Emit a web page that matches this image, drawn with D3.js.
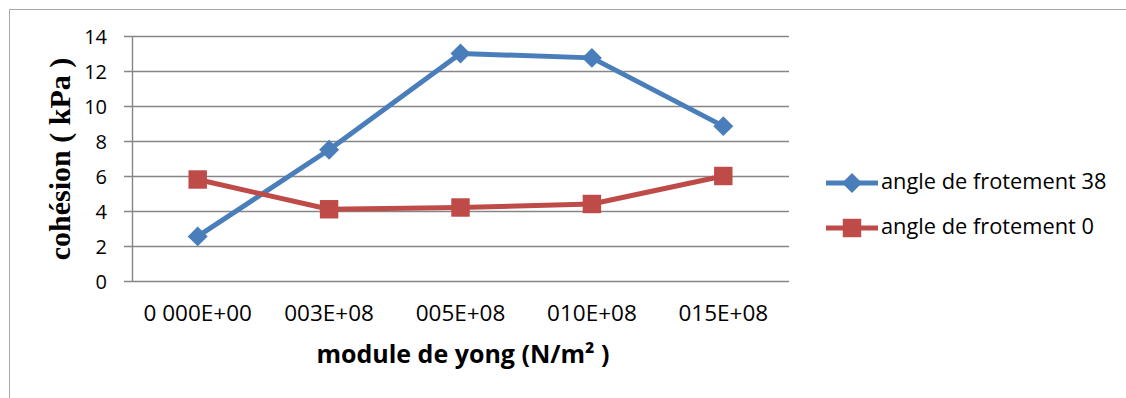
<!DOCTYPE html>
<html><head><meta charset="utf-8">
<script src="https://cdn.jsdelivr.net/npm/d3@7"></script>
<style>body{margin:0;background:#fff}svg{display:block}</style>
</head><body>
<script>
const categories = ["0 000E+00","003E+08","005E+08","010E+08","015E+08"];
const seriesNames = ["angle de frotement 38","angle de frotement 0"];
const series38 = [2.55, 7.5, 13.0, 12.75, 8.85];
const series0 = [5.8, 4.1, 4.2, 4.4, 6.0];
const yTicks = [0,2,4,6,8,10,12,14];
const colors = ["#4A7EBB","#BE4B48"];

(function(){
const W=1126,H=398;
const SANS="'Open Sans','Noto Sans',sans-serif";
const svg=d3.select("body").append("svg").attr("width",W).attr("height",H);
svg.append("path").attr("d","M9.5,398 V9.5 H1126").attr("fill","none").attr("stroke","#a6a6a6").attr("stroke-width",1);

const pL=132,pR=789,pT=36,pB=281;
const x=d3.scaleBand().domain(categories).range([pL,pR]);
const y=d3.scaleLinear().domain([0,14]).range([pB,pT]);

svg.append("g").selectAll("line").data(yTicks).join("line")
 .attr("x1",pL-8).attr("x2",pR).attr("y1",d=>Math.round(y(d))+0.5).attr("y2",d=>Math.round(y(d))+0.5)
 .attr("stroke","#868686").attr("stroke-width",1.4);
svg.append("line").attr("x1",pL+0.5).attr("x2",pL+0.5).attr("y1",pT).attr("y2",pB).attr("stroke","#868686").attr("stroke-width",1.4);

const yAxis=d3.axisLeft(y).tickValues(yTicks).tickSize(0).tickPadding(25);
const ga=svg.append("g").attr("transform",`translate(${pL},0)`).call(yAxis);
ga.select(".domain").remove();
ga.selectAll("text").attr("font-family",SANS).attr("font-size",20).attr("fill","#000").attr("dy","0.36em");

const xAxis=d3.axisBottom(x).tickSize(0).tickPadding(24);
const gx=svg.append("g").attr("transform",`translate(0,${pB})`).call(xAxis);
gx.select(".domain").remove();
gx.selectAll("text").attr("font-family",SANS).attr("font-size",22.5).attr("fill","#000");

const cx=d=>x(d)+x.bandwidth()/2;
const line=d3.line().x((d,i)=>cx(categories[i])).y(d=>y(d));
[series38,series0].forEach((s,k)=>{
  svg.append("path").datum(s).attr("d",line).attr("fill","none").attr("stroke",colors[k]).attr("stroke-width",5).attr("stroke-linejoin","round");
});
svg.append("g").selectAll("path").data(series38).join("path")
 .attr("d",d3.symbol().type(d3.symbolSquare).size(200)())
 .attr("transform",(d,i)=>`translate(${cx(categories[i])},${y(d)}) rotate(45)`).attr("fill",colors[0]);
svg.append("g").selectAll("path").data(series0).join("path")
 .attr("d",d3.symbol().type(d3.symbolSquare).size(340)())
 .attr("transform",(d,i)=>`translate(${cx(categories[i])},${y(d)})`).attr("fill",colors[1]);

svg.append("text").attr("transform","translate(70,159) rotate(-90)").attr("text-anchor","middle")
 .attr("font-family","'Liberation Serif','Times New Roman',serif").attr("font-weight","bold").attr("font-size",30).attr("fill","#000")
 .text("cohésion ( kPa )");
svg.append("text").attr("x",463).attr("y",363).attr("text-anchor","middle")
 .attr("font-family",SANS).attr("font-weight","bold").attr("font-size",25).attr("fill","#000")
 .text("module de yong (N/m² )");

const leg=[183,228];
seriesNames.forEach((n,k)=>{
  const g=svg.append("g").attr("transform",`translate(0,${leg[k]})`);
  g.append("line").attr("x1",826).attr("x2",878).attr("stroke",colors[k]).attr("stroke-width",5);
  if(k===0) g.append("path").attr("d",d3.symbol().type(d3.symbolSquare).size(200)()).attr("transform","translate(852,0) rotate(45)").attr("fill",colors[0]);
  else g.append("path").attr("d",d3.symbol().type(d3.symbolSquare).size(340)()).attr("transform","translate(852,0)").attr("fill",colors[1]);
  g.append("text").attr("x",881).attr("y",0).attr("dy",6)
   .attr("font-family",SANS).attr("font-size",21.8).attr("fill","#000").text(n);
});
})();
</script>
</body></html>
